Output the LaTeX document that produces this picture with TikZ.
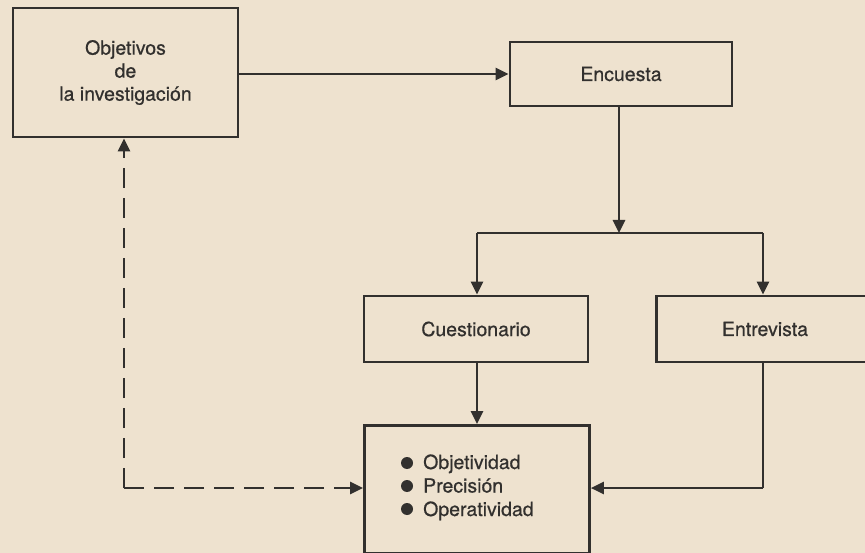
\documentclass[tikz,border=0pt]{standalone}
\usepackage{fontspec}
\setmainfont{TeX Gyre Heros}[FakeBold=0.6]
\usetikzlibrary{arrows.meta}
\definecolor{paper}{RGB}{238,226,207}
\definecolor{ink}{RGB}{50,48,46}
\begin{document}
\begin{tikzpicture}[x=1pt,y=-1pt,
  every node/.style={font=\fontsize{19.5}{23}\selectfont, text=ink},
  box/.style={draw=ink, line width=2.8pt, rectangle, inner sep=0pt, align=center},
  link/.style={draw=ink, line width=2.6pt, -{Triangle[length=13pt,width=12pt]}},
  plain/.style={draw=ink, line width=2.6pt},
  dashlink/.style={link, dash pattern=on 20pt off 10pt},
  item/.style={anchor=base west, inner sep=0pt},
  dot/.style={fill=ink, circle, inner sep=0pt, minimum size=12pt}]
\fill[paper] (0,0) rectangle (865,553);
\useasboundingbox (0,0) rectangle (865,553);
\clip (0,0) rectangle (865,553);

% boxes
\node[box, minimum width=225pt, minimum height=129pt] (obj) at (125.5,72.5)
  {Objetivos\\de\\la investigación};
\node[box, minimum width=222pt, minimum height=64pt] (enc) at (621,74) {Encuesta};
\node[box, minimum width=224pt, minimum height=66pt] (cue) at (476,329) {Cuestionario};
\node[box, minimum width=240pt, minimum height=66pt, anchor=west] (ent) at (655,329) {};
\node (entlabel) at (765,329) {Entrevista};
\node[box, minimum width=225pt, minimum height=128pt, anchor=north west] (res) at (363,424) {};

% bulleted list inside the lower box
\node[dot] (d1) at (407,463) {};
\node[dot] (d2) at (407,486) {};
\node[dot] (d3) at (407,509) {};
\node[item] (i1) at (423,469) {Objetividad};
\node[item] (i2) at (423,492.5) {Precisión};
\node[item] (i3) at (423,516) {Operatividad};

% branch points
\coordinate (br) at (619,233);
\coordinate (brl) at (477,233);
\coordinate (brr) at (763,233);
\coordinate (entdown) at (763,488);
\coordinate (corner) at (124,488);

% connectors
\draw[link] (obj.east |- 0,74) -- (enc.west);
\draw[link] (enc.south -| br) -- (br);
\draw[plain] (brl) -- (brr);
\draw[link] (brl) -- (brl |- cue.north);
\draw[link] (brr) -- (brr |- ent.north);
\draw[link] (cue.south -| brl) -- (brl |- res.north);
\draw[plain] (ent.south -| entdown) -- (entdown);
\draw[link] (entdown) -- (res.east |- entdown);
\draw[dashlink] (corner) -- (res.west |- corner);
\draw[dashlink] (corner) -- (corner |- obj.south);
\end{tikzpicture}
\end{document}
